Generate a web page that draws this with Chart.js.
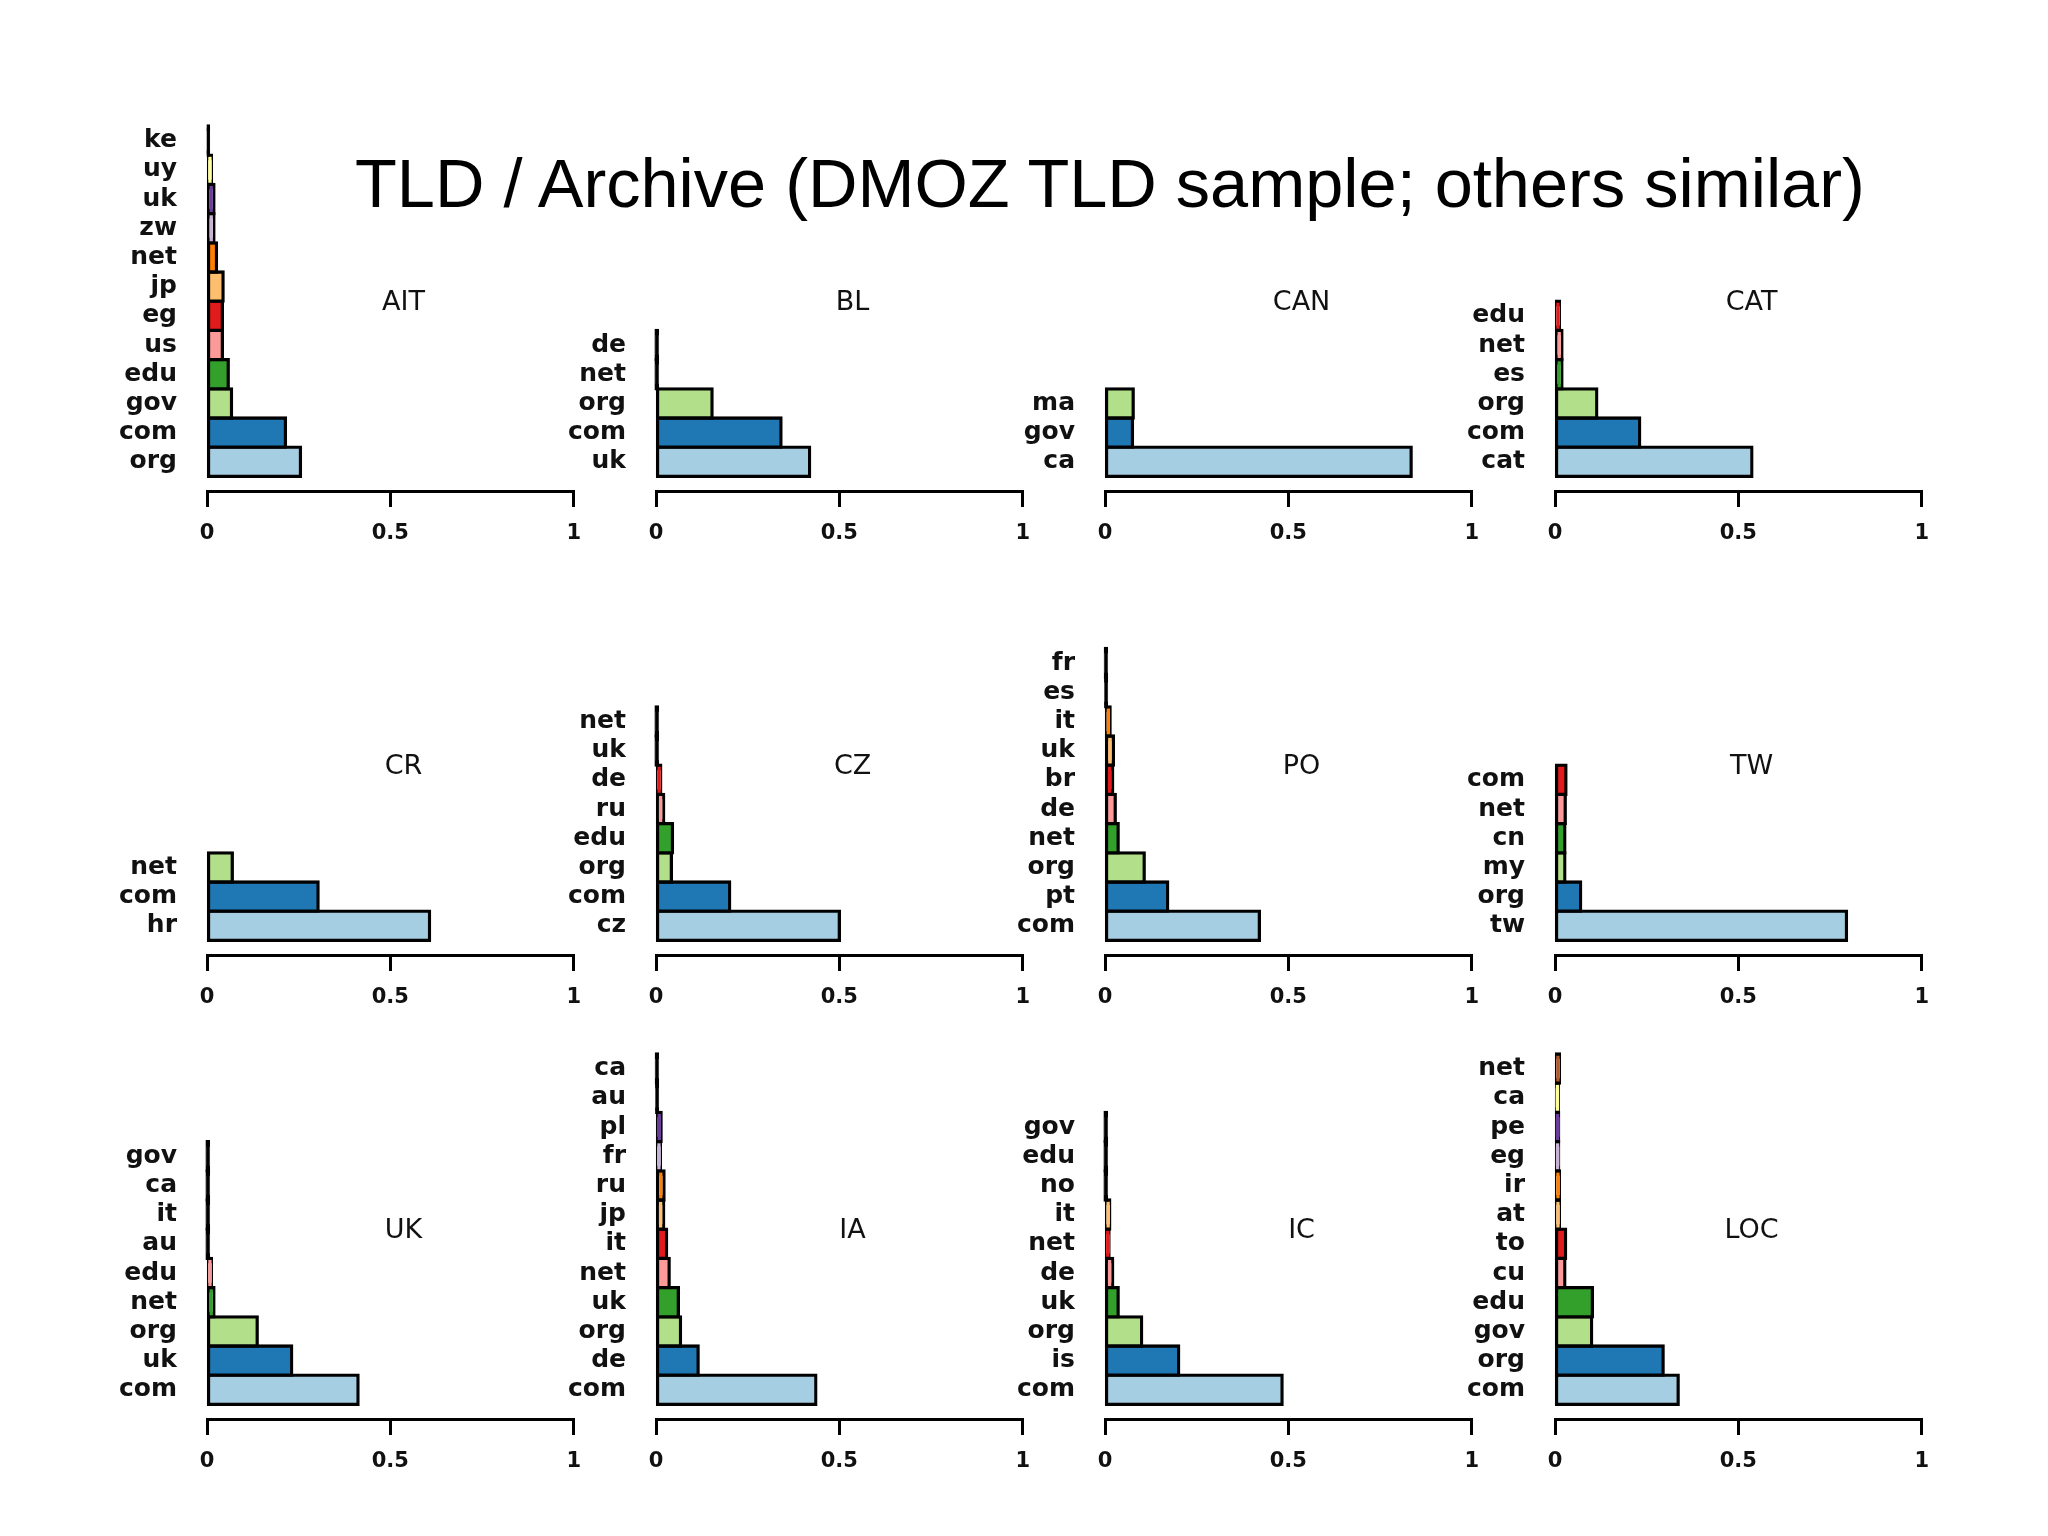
<!DOCTYPE html>
<html>
<head>
  <meta charset="UTF-8" />
  <title>TLD / Archive</title>
  <script src="https://cdn.jsdelivr.net/npm/chart.js"></script>
  <style>
    body { margin: 0; background: #fff; }
    #page { position: relative; width: 2048px; height: 1536px; background: #fff; overflow: hidden; }
    #title { position: absolute; left: 355px; top: 150px; font: 68.5px "Liberation Sans", Arial, sans-serif;
             line-height: 68px; white-space: nowrap; color: #000; }
    canvas { position: absolute; }
  </style>
</head>
<body>
<div id="page">
  <div id="title">TLD / Archive (DMOZ TLD sample; others similar)</div>
</div>
<script>
  // panels, left to right and top to bottom
  const archives = ['AIT', 'BL', 'CAN', 'CAT', 'CR', 'CZ', 'PO', 'TW', 'UK', 'IA', 'IC', 'LOC'];

  // TLDs of each archive, bottom bar first, and their share
  const aitTlds = ['org', 'com', 'gov', 'edu', 'us', 'eg', 'jp', 'net', 'zw', 'uk', 'uy', 'ke'];
  const aitShare = [0.255, 0.214, 0.067, 0.058, 0.042, 0.042, 0.044, 0.026, 0.019, 0.019, 0.012, 0.003];
  const blTlds = ['uk', 'com', 'org', 'net', 'de'];
  const blShare = [0.419, 0.341, 0.153, 0, 0];
  const canTlds = ['ca', 'gov', 'ma'];
  const canShare = [0.835, 0.075, 0.077];
  const catTlds = ['cat', 'com', 'org', 'es', 'net', 'edu'];
  const catShare = [0.537, 0.231, 0.114, 0.019, 0.019, 0.012];
  const crTlds = ['hr', 'com', 'net'];
  const crShare = [0.607, 0.303, 0.069];
  const czTlds = ['cz', 'com', 'org', 'edu', 'ru', 'de', 'uk', 'net'];
  const czShare = [0.500, 0.201, 0.042, 0.045, 0.021, 0.013, 0, 0];
  const poTlds = ['com', 'pt', 'org', 'net', 'de', 'br', 'uk', 'it', 'es', 'fr'];
  const poShare = [0.421, 0.171, 0.107, 0.036, 0.028, 0.021, 0.023, 0.014, 0.002, 0.001];
  const twTlds = ['tw', 'org', 'my', 'cn', 'net', 'com'];
  const twShare = [0.795, 0.070, 0.027, 0.027, 0.028, 0.030];
  const ukTlds = ['com', 'uk', 'org', 'net', 'edu', 'au', 'it', 'ca', 'gov'];
  const ukShare = [0.412, 0.231, 0.137, 0.019, 0.012, 0, 0, 0, 0];
  const iaTlds = ['com', 'de', 'org', 'uk', 'net', 'it', 'jp', 'ru', 'fr', 'pl', 'au', 'ca'];
  const iaShare = [0.436, 0.115, 0.067, 0.061, 0.036, 0.029, 0.021, 0.022, 0.012, 0.014, 0.002, 0.001];
  const icTlds = ['com', 'is', 'org', 'uk', 'de', 'net', 'it', 'no', 'edu', 'gov'];
  const icShare = [0.483, 0.201, 0.100, 0.036, 0.021, 0.011, 0.013, 0, 0, 0];
  const locTlds = ['com', 'org', 'gov', 'edu', 'cu', 'to', 'at', 'ir', 'eg', 'pe', 'ca', 'net'];
  const locShare = [0.336, 0.295, 0.100, 0.102, 0.027, 0.029, 0.012, 0.012, 0.010, 0.010, 0.009, 0.012];

  const xTicks = [0, 0.5, 1];

  const panels = [
    [aitTlds, aitShare], [blTlds, blShare], [canTlds, canShare], [catTlds, catShare],
    [crTlds, crShare], [czTlds, czShare], [poTlds, poShare], [twTlds, twShare],
    [ukTlds, ukShare], [iaTlds, iaShare], [icTlds, icShare], [locTlds, locShare]
  ];

  // ColorBrewer "Paired", one colour per bar from the bottom
  const PAIRED = ['#A6CEE3', '#1F78B4', '#B2DF8A', '#33A02C', '#FB9A99', '#E31A1C',
                  '#FDBF6F', '#FF7F00', '#CAB2D6', '#6A3D9A', '#FFFF99', '#B15928'];

  // layout (px)
  const SLOT = 29.2, AREA_W = 366.7, AREA_H = 12.5 * SLOT;
  const LABEL_W = 110, PAD_TOP = 50, AXIS_H = 75, CW = 500, CH = 490;
  const STROKE = 3.3;
  const colX = [206.7, 656, 1105.3, 1554.7];
  const rowY = [490.7, 955, 1419];

  const panelName = {
    id: 'panelName',
    afterDraw(chart, args, opts) {
      const { ctx, chartArea: a } = chart;
      ctx.save();
      ctx.font = '27px "DejaVu Sans"';
      ctx.fillStyle = '#111';
      ctx.textAlign = 'center';
      ctx.textBaseline = 'middle';
      ctx.fillText(opts.text, a.left + 0.536 * (a.right - a.left), a.bottom - 188.5);
      ctx.restore();
    }
  };

  const page = document.getElementById('page');

  panels.forEach(([tlds, share], k) => {
    const cv = document.createElement('canvas');
    cv.width = CW;
    cv.height = CH;
    cv.style.left = Math.round(colX[k % 4] - LABEL_W) + 'px';
    cv.style.top = Math.round(rowY[Math.floor(k / 4)] - AREA_H - PAD_TOP) + 'px';
    page.appendChild(cv);

    new Chart(cv, {
      type: 'bar',
      data: {
        datasets: [{
          data: share.map((v, i) => ({ x: v, y: i })),
          backgroundColor: c => (c.raw && c.raw.x * AREA_W < STROKE) ? '#000' : PAIRED[c.dataIndex],
          borderColor: '#000',
          borderWidth: STROKE,
          borderSkipped: false,
          inflateAmount: STROKE / 2,
          minBarLength: 0.1,
          categoryPercentage: 1,
          barPercentage: 1,
          clip: false
        }]
      },
      options: {
        indexAxis: 'y',
        responsive: false,
        animation: false,
        events: [],
        layout: { padding: { top: PAD_TOP, right: CW - LABEL_W - AREA_W, bottom: 0, left: 0 } },
        scales: {
          x: {
            type: 'linear', min: 0, max: 1, position: 'bottom', offset: false,
            afterBuildTicks: s => { s.ticks = xTicks.map(v => ({ value: v })); },
            afterFit: s => { s.height = AXIS_H; },
            grid: { drawOnChartArea: false, drawTicks: true, tickLength: 16, lineWidth: 3, color: '#000' },
            border: { display: true, width: 3, color: '#000' },
            ticks: {
              autoSkip: false, maxRotation: 0, padding: 14, color: '#111',
              font: { family: 'DejaVu Sans', weight: 'bold', size: 21 },
              callback: v => String(v)
            }
          },
          y: {
            type: 'linear', min: -1, max: 11.5, offset: false,
            afterBuildTicks: s => { s.ticks = tlds.map((_, i) => ({ value: i })); },
            afterFit: s => { s.width = LABEL_W; },
            grid: { display: false, drawTicks: false, offset: false },
            border: { display: false },
            ticks: {
              autoSkip: false, padding: 30, color: '#111',
              font: { family: 'DejaVu Sans', weight: 'bold', size: 25 },
              callback: v => tlds[v]
            }
          }
        },
        plugins: {
          legend: { display: false },
          tooltip: { enabled: false },
          panelName: { text: archives[k] }
        }
      },
      plugins: [panelName]
    });
  });
</script>
</body>
</html>
